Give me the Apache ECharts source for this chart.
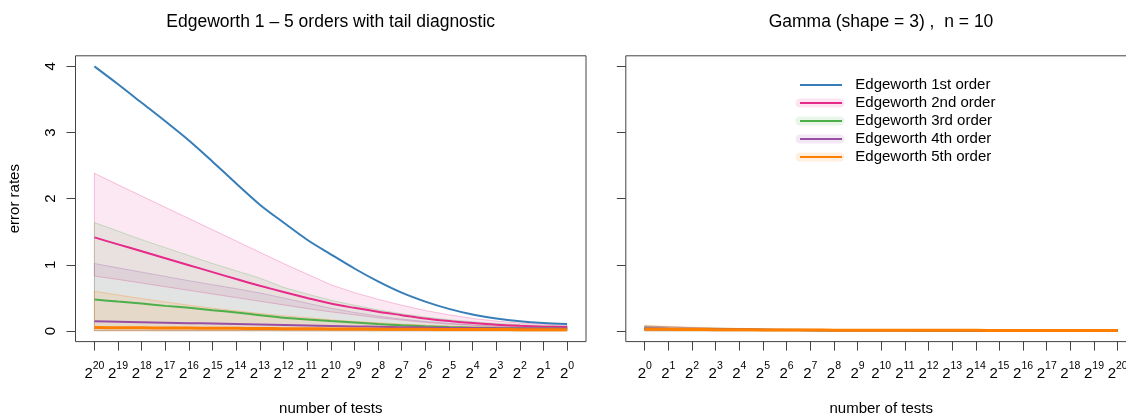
<!DOCTYPE html>
<html>
<head>
<meta charset="utf-8">
<script src="https://cdn.jsdelivr.net/npm/echarts@6/dist/echarts.min.js"></script>
<style>
  html, body { margin: 0; padding: 0; background: #ffffff; }
  #chart { width: 1126px; height: 416px; }
</style>
</head>
<body>
<div id="chart"></div>
<script>
// ---- data -------------------------------------------------------------
// x positions are log2(number of tests); tick labels are drawn as 2^k
const tickExponents = [0, 1, 2, 3, 4, 5, 6, 7, 8, 9, 10, 11, 12, 13, 14, 15, 16, 17, 18, 19, 20];
const yTicks = [0, 1, 2, 3, 4];

const seriesNames = [
  'Edgeworth 1st order',
  'Edgeworth 2nd order',
  'Edgeworth 3rd order',
  'Edgeworth 4th order',
  'Edgeworth 5th order'
];

// left panel: number of tests from 2^20 down to 2^0
const leftExponents = [20, 19, 18, 17, 16, 15, 14, 13, 12, 11, 10, 9, 8, 7, 6, 5, 4, 3, 2, 1, 0];
const left1 = [4.00, 3.73, 3.45, 3.17, 2.88, 2.56, 2.23, 1.91, 1.64, 1.38, 1.16, 0.945, 0.75, 0.58, 0.445, 0.335, 0.25, 0.19, 0.147, 0.12, 0.105];
const left2 = [1.415, 1.31, 1.205, 1.10, 0.995, 0.89, 0.785, 0.685, 0.59, 0.50, 0.415, 0.35, 0.29, 0.24, 0.19, 0.15, 0.12, 0.095, 0.078, 0.066, 0.06];
const left2Hi = [2.385, 2.21, 2.04, 1.87, 1.70, 1.53, 1.36, 1.19, 1.02, 0.86, 0.70, 0.58, 0.48, 0.39, 0.31, 0.245, 0.19, 0.15, 0.12, 0.10, 0.09];
const left2Lo = [0.83, 0.78, 0.725, 0.67, 0.615, 0.56, 0.505, 0.45, 0.395, 0.34, 0.29, 0.245, 0.20, 0.165, 0.13, 0.105, 0.085, 0.068, 0.056, 0.048, 0.044];
const left3 = [0.475, 0.445, 0.415, 0.38, 0.35, 0.315, 0.28, 0.24, 0.20, 0.175, 0.15, 0.128, 0.105, 0.087, 0.072, 0.06, 0.051, 0.045, 0.041, 0.038, 0.036];
const left3Hi = [1.64, 1.51, 1.38, 1.26, 1.14, 1.02, 0.91, 0.80, 0.66, 0.56, 0.465, 0.39, 0.32, 0.26, 0.21, 0.17, 0.14, 0.115, 0.095, 0.082, 0.075];
const left3Lo = [0.006, 0.006, 0.006, 0.005, 0.005, 0.005, 0.005, 0.005, 0.004, 0.004, 0.004, 0.004, 0.004, 0.003, 0.003, 0.003, 0.003, 0.003, 0.003, 0.003, 0.003];
const left4 = [0.147, 0.14, 0.133, 0.126, 0.119, 0.112, 0.105, 0.098, 0.091, 0.084, 0.077, 0.07, 0.064, 0.058, 0.053, 0.048, 0.044, 0.041, 0.038, 0.036, 0.035];
const left4Hi = [1.02, 0.955, 0.89, 0.825, 0.76, 0.70, 0.64, 0.575, 0.50, 0.42, 0.345, 0.28, 0.225, 0.18, 0.145, 0.115, 0.093, 0.077, 0.065, 0.058, 0.054];
const left4Lo = [0.006, 0.006, 0.006, 0.005, 0.005, 0.005, 0.005, 0.005, 0.004, 0.004, 0.004, 0.004, 0.004, 0.003, 0.003, 0.003, 0.003, 0.003, 0.003, 0.003, 0.003];
const left5 = [0.052, 0.05, 0.048, 0.046, 0.044, 0.042, 0.04, 0.038, 0.036, 0.034, 0.032, 0.03, 0.028, 0.026, 0.025, 0.024, 0.023, 0.022, 0.021, 0.02, 0.02];
const left5Hi = [0.60, 0.545, 0.49, 0.44, 0.39, 0.345, 0.305, 0.265, 0.23, 0.20, 0.17, 0.145, 0.125, 0.105, 0.09, 0.077, 0.066, 0.057, 0.05, 0.045, 0.042];
const left5Lo = [0.004, 0.004, 0.004, 0.004, 0.004, 0.004, 0.004, 0.004, 0.003, 0.003, 0.003, 0.003, 0.003, 0.003, 0.003, 0.003, 0.003, 0.003, 0.003, 0.003, 0.003];

// right panel: Gamma(shape = 3), n = 10, number of tests from 2^0 up to 2^20
const rightExponents = [0, 1, 2, 3, 4, 5, 6, 7, 8, 9, 10, 11, 12, 13, 14, 15, 16, 17, 18, 19, 20];
const right1 = [0.040, 0.034, 0.029, 0.025, 0.021, 0.018, 0.016, 0.014, 0.013, 0.012, 0.011, 0.010, 0.010, 0.009, 0.009, 0.009, 0.008, 0.008, 0.008, 0.008, 0.008];
const right2 = [0.036, 0.031, 0.027, 0.023, 0.020, 0.017, 0.015, 0.013, 0.012, 0.011, 0.010, 0.010, 0.009, 0.009, 0.008, 0.008, 0.008, 0.008, 0.008, 0.008, 0.008];
const right2Hi = [0.070, 0.058, 0.048, 0.040, 0.034, 0.029, 0.026, 0.023, 0.021, 0.019, 0.018, 0.017, 0.016, 0.015, 0.015, 0.014, 0.014, 0.014, 0.013, 0.013, 0.013];
const right2Lo = [0.012, 0.011, 0.010, 0.009, 0.008, 0.007, 0.007, 0.006, 0.006, 0.006, 0.005, 0.005, 0.005, 0.005, 0.005, 0.005, 0.005, 0.005, 0.005, 0.005, 0.005];
const right3 = [0.033, 0.029, 0.025, 0.022, 0.019, 0.017, 0.015, 0.013, 0.012, 0.011, 0.010, 0.010, 0.009, 0.009, 0.009, 0.008, 0.008, 0.008, 0.008, 0.008, 0.008];
const right3Hi = [0.078, 0.064, 0.053, 0.044, 0.037, 0.032, 0.028, 0.025, 0.022, 0.020, 0.019, 0.018, 0.017, 0.016, 0.015, 0.015, 0.014, 0.014, 0.014, 0.013, 0.013];
const right3Lo = [0.004, 0.004, 0.004, 0.004, 0.004, 0.004, 0.004, 0.004, 0.004, 0.004, 0.004, 0.004, 0.004, 0.004, 0.004, 0.004, 0.004, 0.004, 0.004, 0.004, 0.004];
const right4 = [0.031, 0.027, 0.024, 0.021, 0.019, 0.017, 0.015, 0.014, 0.013, 0.012, 0.011, 0.010, 0.010, 0.010, 0.009, 0.009, 0.009, 0.009, 0.009, 0.009, 0.009];
const right4Hi = [0.074, 0.061, 0.051, 0.043, 0.036, 0.031, 0.027, 0.024, 0.022, 0.020, 0.019, 0.018, 0.017, 0.016, 0.015, 0.015, 0.014, 0.014, 0.014, 0.013, 0.013];
const right4Lo = [0.004, 0.004, 0.004, 0.004, 0.004, 0.004, 0.004, 0.004, 0.004, 0.004, 0.004, 0.004, 0.004, 0.004, 0.004, 0.004, 0.004, 0.004, 0.004, 0.004, 0.004];
const right5 = [0.028, 0.026, 0.023, 0.021, 0.019, 0.017, 0.015, 0.014, 0.013, 0.012, 0.011, 0.011, 0.010, 0.010, 0.010, 0.009, 0.009, 0.009, 0.009, 0.009, 0.009];
const right5Hi = [0.085, 0.070, 0.057, 0.047, 0.040, 0.034, 0.030, 0.026, 0.023, 0.021, 0.019, 0.018, 0.017, 0.016, 0.015, 0.015, 0.014, 0.014, 0.014, 0.013, 0.013];
const right5Lo = [0.003, 0.003, 0.003, 0.003, 0.003, 0.003, 0.003, 0.003, 0.003, 0.003, 0.003, 0.003, 0.003, 0.003, 0.003, 0.003, 0.003, 0.003, 0.003, 0.003, 0.003];

// ---- styling ----------------------------------------------------------
const FONT = "'Liberation Sans', Arial, Helvetica, sans-serif";
const seriesColors = ['#377EB8', '#E7298A', '#4DAF4A', '#984EA3', '#FF7F00'];
const rgb = [[55, 126, 184], [231, 41, 138], [77, 175, 74], [152, 78, 163], [255, 127, 0]];
const rgba = (i, a) => 'rgba(' + rgb[i].join(',') + ',' + a + ')';
const lineWidths = [2, 2, 2, 2, 3];
const FRAME = '#444';

// ---- series builders --------------------------------------------------
function lineSeries(idx, panel, xs, ys) {
  return {
    type: 'line',
    name: seriesNames[idx],
    xAxisIndex: panel, yAxisIndex: panel,
    data: xs.map((x, i) => [x, ys[i]]),
    showSymbol: false, symbol: 'none',
    smooth: 0.3,
    itemStyle: { color: seriesColors[idx] },
    lineStyle: { color: seriesColors[idx], width: lineWidths[idx] },
    silent: true, z: 4, clip: true
  };
}

// shaded tail band: a polygon through the upper bounds and back along the lower bounds
function bandSeries(idx, panel, xs, lo, hi) {
  return {
    type: 'custom',
    name: seriesNames[idx] + ' band',
    xAxisIndex: panel, yAxisIndex: panel,
    data: [[xs[0], lo[0]]],
    silent: true, z: 2, clip: true,
    renderItem: function (params, api) {
      const upper = xs.map((x, i) => api.coord([x, hi[i]]));
      const lower = xs.map((x, i) => api.coord([x, lo[i]])).reverse();
      return {
        type: 'polygon',
        shape: { points: upper.concat(lower) },
        style: { fill: rgba(idx, 0.11), stroke: rgba(idx, 0.28), lineWidth: 1 }
      };
    }
  };
}

function xAxis(panel, inverse) {
  return {
    type: 'value', gridIndex: panel,
    min: -0.8, max: 20.8, inverse: inverse,
    axisLine: { show: false, onZero: false },
    splitLine: { show: false },
    axisTick: { show: true, customValues: tickExponents, length: 9, lineStyle: { color: FRAME, width: 1 } },
    axisLabel: {
      customValues: tickExponents, margin: 19, color: '#000',
      formatter: v => '{b|2}{s|' + v + '}',
      rich: {
        b: { fontSize: 15, fontFamily: FONT, color: '#000', verticalAlign: 'bottom' },
        s: { fontSize: 10.5, fontFamily: FONT, color: '#000', verticalAlign: 'bottom', padding: [0, 0, 9.5, 0] }
      }
    },
    name: 'number of tests', nameLocation: 'middle', nameGap: 60,
    nameTextStyle: { fontSize: 15, fontFamily: FONT, color: '#000' }
  };
}

function yAxis(panel, withLabels) {
  const ax = {
    type: 'value', gridIndex: panel,
    min: -0.16, max: 4.16,
    axisLine: { show: false, onZero: false },
    splitLine: { show: false },
    axisTick: { show: true, customValues: yTicks, length: 9, lineStyle: { color: FRAME, width: 1 } },
    axisLabel: {
      show: withLabels, customValues: yTicks, rotate: 90, margin: 17,
      fontSize: 15, fontFamily: FONT, color: '#000'
    }
  };
  if (withLabels) {
    ax.name = 'error rates';
    ax.nameLocation = 'middle';
    ax.nameGap = 53;
    ax.nameTextStyle = { fontSize: 15, fontFamily: FONT, color: '#000' };
  }
  return ax;
}

const series = [
  bandSeries(1, 0, leftExponents, left2Lo, left2Hi),
  bandSeries(2, 0, leftExponents, left3Lo, left3Hi),
  bandSeries(3, 0, leftExponents, left4Lo, left4Hi),
  bandSeries(4, 0, leftExponents, left5Lo, left5Hi),
  lineSeries(0, 0, leftExponents, left1),
  lineSeries(1, 0, leftExponents, left2),
  lineSeries(2, 0, leftExponents, left3),
  lineSeries(3, 0, leftExponents, left4),
  lineSeries(4, 0, leftExponents, left5),

  bandSeries(1, 1, rightExponents, right2Lo, right2Hi),
  bandSeries(2, 1, rightExponents, right3Lo, right3Hi),
  bandSeries(3, 1, rightExponents, right4Lo, right4Hi),
  bandSeries(4, 1, rightExponents, right5Lo, right5Hi),
  lineSeries(0, 1, rightExponents, right1),
  lineSeries(1, 1, rightExponents, right2),
  lineSeries(2, 1, rightExponents, right3),
  lineSeries(3, 1, rightExponents, right4),
  lineSeries(4, 1, rightExponents, right5)
];

const titleStyle = { fontSize: 17.5, fontWeight: 'normal', fontFamily: FONT, color: '#000' };

const option = {
  animation: false,
  backgroundColor: '#ffffff',
  title: [
    { text: 'Edgeworth 1 \u2013 5 orders with tail diagnostic', left: 330.7, top: 13, textAlign: 'center', padding: 0, textStyle: titleStyle },
    { text: 'Gamma (shape = 3) ,  n = 10', left: 881, top: 13, textAlign: 'center', padding: 0, textStyle: titleStyle }
  ],
  grid: [
    { left: 75.5, top: 55.8, width: 510.5, height: 285.8, outerBoundsMode: 'none', containLabel: false,
      show: true, borderColor: FRAME, borderWidth: 1, backgroundColor: 'transparent' },
    { left: 625.8, top: 55.8, width: 510.8, height: 285.8, outerBoundsMode: 'none', containLabel: false,
      show: true, borderColor: FRAME, borderWidth: 1, backgroundColor: 'transparent' }
  ],
  xAxis: [xAxis(0, true), xAxis(1, false)],
  yAxis: [yAxis(0, true), yAxis(1, false)],
  legend: [
    // pale halos behind the 2nd..5th order keys
    {
      data: seriesNames.slice(1).map((n, i) => ({ name: n + ' band', itemStyle: { color: rgba(i + 1, 0.12) } })),
      orient: 'vertical', left: 795.5, top: 94,
      icon: 'path://M4.5,0 H44.5 A4.5,4.5 0 0 1 44.5,9 H4.5 A4.5,4.5 0 0 1 4.5,0 Z',
      itemWidth: 49, itemHeight: 9, itemGap: 0,
      formatter: () => ' ',
      textStyle: { fontSize: 15, lineHeight: 18, color: 'rgba(0,0,0,0)' },
      selectedMode: false, z: 2, padding: 0
    },
    {
      data: seriesNames.map((n, i) => ({ name: n, itemStyle: { color: seriesColors[i] } })),
      orient: 'vertical', left: 800, top: 76,
      icon: 'rect', itemWidth: 42, itemHeight: 2, itemGap: 0,
      formatter: n => '  ' + n,
      textStyle: { fontSize: 15, lineHeight: 18, color: '#000', fontFamily: FONT },
      selectedMode: false, z: 3, padding: 0
    }
  ],
  series: series
};

const chart = echarts.init(document.getElementById('chart'), null, { renderer: 'canvas' });
chart.setOption(option);
</script>
</body>
</html>
